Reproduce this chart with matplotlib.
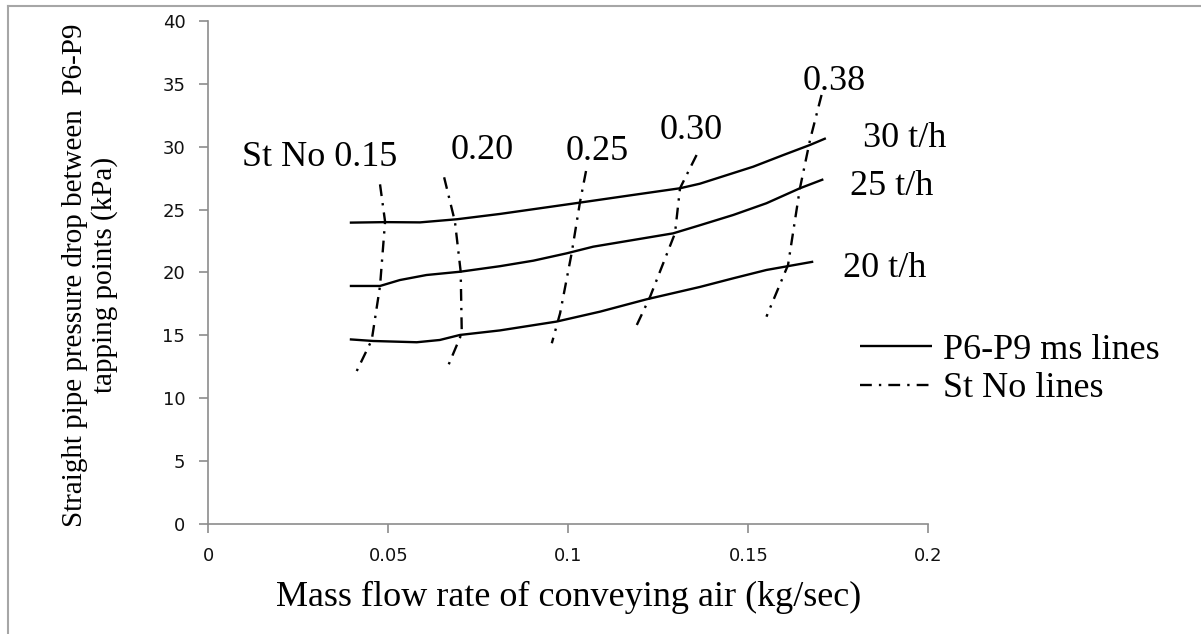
import matplotlib
matplotlib.use("Agg")
import matplotlib.pyplot as plt
from matplotlib.lines import Line2D

SERIF = "Liberation Serif"

# P6-P9 ms lines (solids)
x_30 = [0.0393, 0.0491, 0.0588, 0.0691, 0.0810, 0.1032, 0.1180, 0.1310, 0.1365, 0.1513, 0.1597, 0.1671, 0.1715]
y_30 = [23.96, 24.00, 23.98, 24.23, 24.65, 25.55, 26.16, 26.69, 27.05, 28.40, 29.33, 30.13, 30.66]

x_25 = [0.0393, 0.0477, 0.0532, 0.0606, 0.0699, 0.0810, 0.0903, 0.0995, 0.1069, 0.1180, 0.1291, 0.1365,
        0.1458, 0.1550, 0.1643, 0.1708]
y_25 = [18.93, 18.93, 19.40, 19.80, 20.06, 20.50, 20.94, 21.52, 22.05, 22.58, 23.11, 23.75,
        24.57, 25.50, 26.69, 27.40]

x_20 = [0.0393, 0.0458, 0.0579, 0.0643, 0.0699, 0.0810, 0.0967, 0.1088, 0.1217, 0.1365, 0.1458, 0.1550, 0.1680]
y_20 = [14.69, 14.56, 14.46, 14.64, 15.04, 15.40, 16.10, 16.89, 17.87, 18.85, 19.54, 20.20, 20.86]

ms_names = ["30 t/h", "25 t/h", "20 t/h"]
ms_label_xy = [(0.1817, 30.66), (0.1782, 26.8), (0.1763, 20.33)]

# St No lines (dash-dot), top to bottom
st_x = {
    "0.15": [0.0477, 0.0491, 0.0477, 0.0454, 0.0407],
    "0.20": [0.0655, 0.0685, 0.0701, 0.0704, 0.0667],
    "0.25": [0.1049, 0.1032, 0.1009, 0.0977, 0.0954],
    "0.30": [0.1356, 0.1310, 0.1296, 0.1227, 0.1190],
    "0.38": [0.1703, 0.1671, 0.1643, 0.1610, 0.1550],
}
st_y = {
    "0.15": [27.00, 24.04, 18.93, 14.64, 11.86],
    "0.20": [27.56, 24.04, 20.06, 15.17, 12.65],
    "0.25": [28.06, 25.55, 21.52, 16.76, 14.38],
    "0.30": [29.33, 26.69, 23.11, 18.08, 15.83],
    "0.38": [34.10, 30.52, 26.69, 20.60, 16.49],
}
st_label_text = ["St No 0.15", "0.20", "0.25", "0.30", "0.38"]
st_label_xy = [(0.0094, 29.1), (0.0674, 29.7), (0.0991, 29.6), (0.1254, 31.3), (0.1651, 35.2)]

x_ticks = [0, 0.05, 0.1, 0.15, 0.2]
x_tick_labels = ["0", "0.05", "0.1", "0.15", "0.2"]
y_ticks = [0, 5, 10, 15, 20, 25, 30, 35, 40]

fig = plt.figure(figsize=(12.01, 6.34), dpi=100)
ax = fig.add_axes([0.1734, 0.1730, 0.5997, 0.7944])

dashdot = (0, (5, 3, 1, 3))
solid_handles = []
for xs, ys in [(x_30, y_30), (x_25, y_25), (x_20, y_20)]:
    (ln,) = ax.plot(xs, ys, color="black", lw=1.7, solid_capstyle="butt")
    solid_handles.append(ln)

st_handles = []
for key in st_x:
    (ln,) = ax.plot(st_x[key], st_y[key], color="black", lw=1.7, linestyle=dashdot)
    st_handles.append(ln)

for name, (tx, ty) in zip(ms_names, ms_label_xy):
    ax.text(tx, ty, name, family=SERIF, fontsize=26, ha="left", va="center")
for name, (tx, ty) in zip(st_label_text, st_label_xy):
    ax.text(tx, ty, name, family=SERIF, fontsize=26, ha="left", va="center")

ax.set_xlim(0, 0.2)
ax.set_ylim(0, 40)
ax.set_xticks(x_ticks)
ax.set_xticklabels(x_tick_labels)
ax.set_yticks(y_ticks)

grey = "#8c8c8c"
for side in ["top", "right"]:
    ax.spines[side].set_visible(False)
for side in ["left", "bottom"]:
    ax.spines[side].set_color(grey)
    ax.spines[side].set_linewidth(1.2)
ax.tick_params(direction="out", length=6.5, width=1.2, color=grey, pad=10,
               labelsize=13, labelcolor="#111111")
for lab in ax.get_xticklabels() + ax.get_yticklabels():
    lab.set_family("DejaVu Sans")

ax.set_xlabel("Mass flow rate of conveying air (kg/sec)", family=SERIF, fontsize=26)
ax.xaxis.set_label_coords(0.5, -0.113)
ax.set_ylabel("Straight pipe pressure drop between  P6-P9\ntapping points (kPa)",
              family=SERIF, fontsize=21, linespacing=1.15)
ax.yaxis.set_label_coords(-0.125, 0.495)

ax.legend([solid_handles[0], st_handles[0]], ["P6-P9 ms lines", "St No lines"],
          loc="upper left", bbox_to_anchor=(0.716, 0.474), bbox_transform=fig.transFigure,
          frameon=False, prop={"family": SERIF, "size": 26}, handlelength=2.0,
          handletextpad=0.3, labelspacing=0.15, borderpad=0, borderaxespad=0)

# outer frame (top and left edges only visible in the picture)
fig.add_artist(Line2D([8 / 1201, 1], [1 - 6 / 634, 1 - 6 / 634], color="#a6a6a6", lw=1.5,
                      transform=fig.transFigure))
fig.add_artist(Line2D([8 / 1201, 8 / 1201], [0, 1 - 6 / 634], color="#a6a6a6", lw=1.5,
                      transform=fig.transFigure))

fig.savefig("out.png", dpi=100)
